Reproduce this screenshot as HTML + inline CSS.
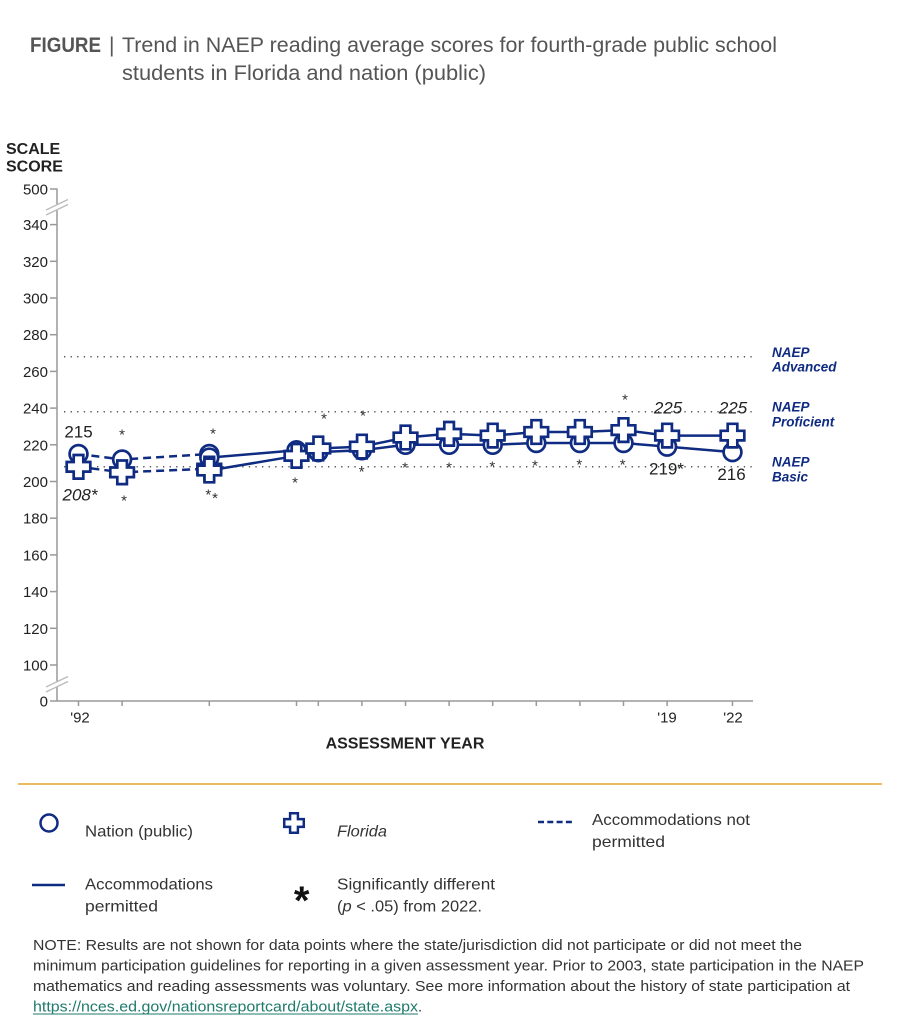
<!DOCTYPE html>
<html><head><meta charset="utf-8"><style>
html,body{margin:0;padding:0;background:#fff;}
svg{display:block;}
text{font-family:"Liberation Sans",Arial,sans-serif;}
</style></head><body>
<svg width="899" height="1023" viewBox="0 0 899 1023" xmlns="http://www.w3.org/2000/svg">
<defs>
<path id="cr" d="M-4.8,-11.8 H4.8 V-4.8 H11.8 V4.8 H4.8 V11.8 H-4.8 V4.8 H-11.8 V-4.8 H-4.8 Z" fill="#fff" stroke="#0f2b82" stroke-width="2.7" stroke-linejoin="miter"/>
<circle id="ci" r="8.9" fill="#fff" stroke="#0f2b82" stroke-width="2.7"/>
</defs>

<!-- Title -->
<text x="30" y="52" font-size="21" fill="#555" font-weight="bold" textLength="71" lengthAdjust="spacingAndGlyphs">FIGURE</text>
<text x="109" y="52" font-size="21" fill="#555">|</text>
<text x="122" y="52" font-size="21" fill="#555" textLength="655" lengthAdjust="spacingAndGlyphs">Trend in NAEP reading average scores for fourth-grade public school</text>
<text x="122" y="80" font-size="21" fill="#555" textLength="364" lengthAdjust="spacingAndGlyphs">students in Florida and nation (public)</text>

<!-- Y axis title -->
<text x="6" y="154" font-size="16" font-weight="bold" fill="#222">SCALE</text>
<text x="6" y="171.5" font-size="16" font-weight="bold" fill="#222">SCORE</text>

<!-- Axes -->
<g stroke="#999" stroke-width="1.5" fill="none">
<line x1="57" y1="188.5" x2="57" y2="701"/>
<line x1="57" y1="701" x2="753" y2="701"/>
<line x1="50" y1="189" x2="57" y2="189"/>
<line x1="50" y1="224.6" x2="57" y2="224.6"/>
<line x1="50" y1="261.3" x2="57" y2="261.3"/>
<line x1="50" y1="298" x2="57" y2="298"/>
<line x1="50" y1="334.7" x2="57" y2="334.7"/>
<line x1="50" y1="371.4" x2="57" y2="371.4"/>
<line x1="50" y1="408.1" x2="57" y2="408.1"/>
<line x1="50" y1="444.8" x2="57" y2="444.8"/>
<line x1="50" y1="481.5" x2="57" y2="481.5"/>
<line x1="50" y1="518.2" x2="57" y2="518.2"/>
<line x1="50" y1="554.9" x2="57" y2="554.9"/>
<line x1="50" y1="591.6" x2="57" y2="591.6"/>
<line x1="50" y1="628.3" x2="57" y2="628.3"/>
<line x1="50" y1="665" x2="57" y2="665"/>
<line x1="50" y1="701" x2="57" y2="701"/>
<line x1="78.5" y1="701" x2="78.5" y2="706"/>
<line x1="122.1" y1="701" x2="122.1" y2="706"/>
<line x1="209.3" y1="701" x2="209.3" y2="706"/>
<line x1="296.5" y1="701" x2="296.5" y2="706"/>
<line x1="318.3" y1="701" x2="318.3" y2="706"/>
<line x1="361.9" y1="701" x2="361.9" y2="706"/>
<line x1="405.5" y1="701" x2="405.5" y2="706"/>
<line x1="449.1" y1="701" x2="449.1" y2="706"/>
<line x1="492.7" y1="701" x2="492.7" y2="706"/>
<line x1="536.3" y1="701" x2="536.3" y2="706"/>
<line x1="579.9" y1="701" x2="579.9" y2="706"/>
<line x1="623.5" y1="701" x2="623.5" y2="706"/>
<line x1="667.1" y1="701" x2="667.1" y2="706"/>
<line x1="732.5" y1="701" x2="732.5" y2="706"/>
</g>

<!-- axis breaks -->
<polygon points="46,210 68,199.5 68,204.5 46,215" fill="#fff" stroke="none"/>
<line x1="46" y1="210" x2="68" y2="199.5" stroke="#bbb" stroke-width="1.3"/>
<line x1="46" y1="215" x2="68" y2="204.5" stroke="#bbb" stroke-width="1.3"/>
<polygon points="46,687 68,676.5 68,681.5 46,692" fill="#fff" stroke="none"/>
<line x1="46" y1="687" x2="68" y2="676.5" stroke="#bbb" stroke-width="1.3"/>
<line x1="46" y1="692" x2="68" y2="681.5" stroke="#bbb" stroke-width="1.3"/>

<!-- y tick labels -->
<g font-size="15" fill="#222" text-anchor="end">
<text x="48" y="194.5">500</text>
<text x="48" y="230">340</text>
<text x="48" y="266.8">320</text>
<text x="48" y="303.5">300</text>
<text x="48" y="340.2">280</text>
<text x="48" y="376.9">260</text>
<text x="48" y="413.6">240</text>
<text x="48" y="450.3">220</text>
<text x="48" y="487">200</text>
<text x="48" y="523.7">180</text>
<text x="48" y="560.4">160</text>
<text x="48" y="597.1">140</text>
<text x="48" y="633.8">120</text>
<text x="48" y="670.5">100</text>
<text x="48" y="706.5">0</text>
</g>

<!-- x tick labels -->
<g font-size="15" fill="#222" text-anchor="middle">
<text x="80" y="722.7">'92</text>
<text x="667" y="722.7">'19</text>
<text x="733" y="722.7">'22</text>
</g>
<text x="405" y="748.3" font-size="16" font-weight="bold" fill="#222" text-anchor="middle">ASSESSMENT YEAR</text>

<!-- reference lines -->
<g stroke="#555" stroke-width="1.5" stroke-dasharray="1.3,5.3" fill="none">
<line x1="64" y1="356.7" x2="753" y2="356.7"/>
<line x1="64" y1="411.8" x2="753" y2="411.8"/>
<line x1="64" y1="466.8" x2="753" y2="466.8"/>
</g>
<g font-size="13.5" font-weight="bold" font-style="italic" fill="#0f2b82">
<text x="772" y="357">NAEP</text>
<text x="772" y="371.7">Advanced</text>
<text x="772" y="411.7">NAEP</text>
<text x="772" y="426.7">Proficient</text>
<text x="772" y="466.7">NAEP</text>
<text x="772" y="481.7">Basic</text>
</g>

<!-- series lines -->
<g stroke="#0f2b82" stroke-width="2.5" fill="none" stroke-linejoin="round">
<polyline stroke-dasharray="8,5" points="78.5,454 122.1,459.5 209.3,454"/>
<polyline stroke-dasharray="8,5" points="78.5,466.8 122.1,472.3 209.3,468.7"/>
<polyline points="209.3,457.6 296.5,450.3 318.3,452.1 361.9,450.3 405.5,444.8 449.1,444.8 492.7,444.8 536.3,443 579.9,443 623.5,443 667.1,446.6 732.5,452.1"/>
<polyline points="209.3,470.5 296.5,455.8 318.3,448.5 361.9,446.6 405.5,437.5 449.1,433.8 492.7,435.6 536.3,432 579.9,432 623.5,430.1 667.1,435.6 732.5,435.6"/>
</g>

<!-- nation markers -->
<use href="#ci" x="78.5" y="454"/>
<use href="#ci" x="122.1" y="459.5"/>
<use href="#ci" x="209.3" y="454"/>
<use href="#ci" x="209.3" y="457.6"/>
<use href="#ci" x="296.5" y="450.3"/>
<use href="#ci" x="318.3" y="452.1"/>
<use href="#ci" x="361.9" y="450.3"/>
<use href="#ci" x="405.5" y="444.8"/>
<use href="#ci" x="449.1" y="444.8"/>
<use href="#ci" x="492.7" y="444.8"/>
<use href="#ci" x="536.3" y="443"/>
<use href="#ci" x="579.9" y="443"/>
<use href="#ci" x="623.5" y="443"/>
<use href="#ci" x="667.1" y="446.6"/>
<use href="#ci" x="732.5" y="452.1"/>

<!-- florida markers -->
<use href="#cr" x="78.5" y="466.8"/>
<use href="#cr" x="122.1" y="472.3"/>
<use href="#cr" x="209.3" y="468.7"/>
<use href="#cr" x="209.3" y="470.5"/>
<use href="#cr" x="296.5" y="455.8"/>
<use href="#cr" x="318.3" y="448.5"/>
<use href="#cr" x="361.9" y="446.6"/>
<use href="#cr" x="405.5" y="437.5"/>
<use href="#cr" x="449.1" y="433.8"/>
<use href="#cr" x="492.7" y="435.6"/>
<use href="#cr" x="536.3" y="432"/>
<use href="#cr" x="579.9" y="432"/>
<use href="#cr" x="623.5" y="430.1"/>
<use href="#cr" x="667.1" y="435.6"/>
<use href="#cr" x="732.5" y="435.6"/>

<!-- significance asterisks -->
<g font-size="15" fill="#333" text-anchor="middle">
<text x="122" y="439.7">*</text>
<text x="213" y="438.7">*</text>
<text x="124" y="505.7">*</text>
<text x="208.3" y="499.7">*</text>
<text x="215" y="503">*</text>
<text x="295" y="487.7">*</text>
<text x="324" y="423.4">*</text>
<text x="363" y="420.7">*</text>
<text x="361.7" y="476.4">*</text>
<text x="405" y="472.7">*</text>
<text x="449" y="472.7">*</text>
<text x="492.3" y="471.4">*</text>
<text x="535" y="470.4">*</text>
<text x="579.3" y="469.7">*</text>
<text x="622.7" y="469.7">*</text>
<text x="625" y="404.7">*</text>
</g>

<!-- data labels -->
<g font-size="17" fill="#222" text-anchor="middle">
<text x="78.5" y="437.3">215</text>
<text x="80" y="500.7" font-style="italic">208*</text>
<text x="668" y="413.3" font-style="italic">225</text>
<text x="733" y="413.3" font-style="italic">225</text>
<text x="666.5" y="474.3">219*</text>
<text x="731.5" y="480">216</text>
</g>

<!-- legend divider -->
<line x1="18" y1="784" x2="882" y2="784" stroke="#e2a42c" stroke-width="1.5"/>

<!-- legend -->
<circle cx="49" cy="823" r="8.5" fill="#fff" stroke="#0f2b82" stroke-width="2.5"/>
<g transform="translate(294,823) scale(0.85)">
<path d="M-4.6,-11.5 H4.6 V-4.6 H11.5 V4.6 H4.6 V11.5 H-4.6 V4.6 H-11.5 V-4.6 H-4.6 Z" fill="#fff" stroke="#0f2b82" stroke-width="2.9"/>
</g>
<line x1="538" y1="822" x2="572" y2="822" stroke="#0f2b82" stroke-width="2.5" stroke-dasharray="6,3.3"/>
<line x1="32" y1="885" x2="65" y2="885" stroke="#0f2b82" stroke-width="2.5"/>
<text x="301.7" y="914" font-size="40" font-weight="bold" fill="#111" text-anchor="middle">*</text>

<g font-size="16" fill="#333">
<text x="85" y="836.5" textLength="108" lengthAdjust="spacingAndGlyphs">Nation (public)</text>
<text x="337" y="836.5" font-style="italic" textLength="50" lengthAdjust="spacingAndGlyphs">Florida</text>
<text x="592" y="825" textLength="158" lengthAdjust="spacingAndGlyphs">Accommodations not</text>
<text x="592" y="847" textLength="73" lengthAdjust="spacingAndGlyphs">permitted</text>
<text x="85" y="889.3" textLength="128" lengthAdjust="spacingAndGlyphs">Accommodations</text>
<text x="85" y="911.5" textLength="73" lengthAdjust="spacingAndGlyphs">permitted</text>
<text x="337" y="889.3" textLength="158" lengthAdjust="spacingAndGlyphs">Significantly different</text>
<text x="337" y="911.5" textLength="145" lengthAdjust="spacingAndGlyphs">(<tspan font-style="italic">p</tspan> &lt; .05) from 2022.</text>
</g>

<!-- note -->
<g font-size="15" fill="#333">
<text x="33" y="950" textLength="769" lengthAdjust="spacingAndGlyphs">NOTE: Results are not shown for data points where the state/jurisdiction did not participate or did not meet the</text>
<text x="33" y="970.5" textLength="831" lengthAdjust="spacingAndGlyphs">minimum participation guidelines for reporting in a given assessment year. Prior to 2003, state participation in the NAEP</text>
<text x="33" y="991" textLength="817" lengthAdjust="spacingAndGlyphs">mathematics and reading assessments was voluntary. See more information about the history of state participation at</text>
<text x="33" y="1011.5" fill="#1f7a6c" textLength="385" lengthAdjust="spacingAndGlyphs">https://nces.ed.gov/nationsreportcard/about/state.aspx</text>
<line x1="33" y1="1014" x2="418" y2="1014" stroke="#1f7a6c" stroke-width="1"/>
<text x="418" y="1011.5">.</text>
</g>
</svg>
</body></html>
